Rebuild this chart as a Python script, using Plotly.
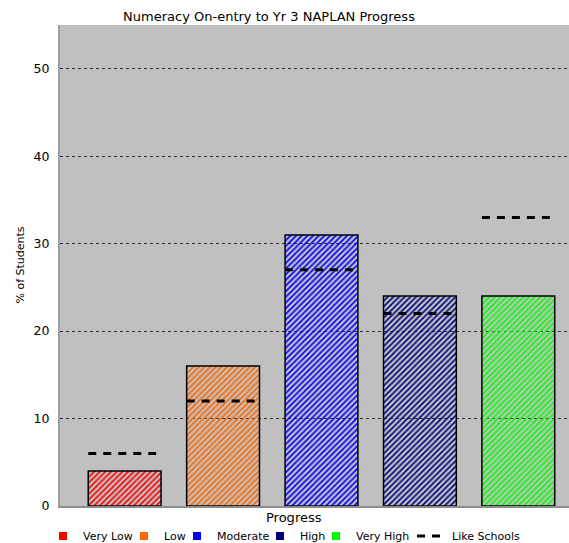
import plotly.graph_objects as go

categories = ["Very Low", "Low", "Moderate", "High", "Very High"]
school_pct = [4, 16, 31, 24, 24]
like_schools_pct = [6, 12, 27, 22, 33]
colors = ["#FF0000", "#FF6600", "#0000FF", "#000080", "#00FF00"]
y_ticks = [0, 10, 20, 30, 40, 50]

FONT = "DejaVu Sans"
bar_w = 0.74
xs = list(range(len(categories)))
PW = 509  # plot width in px
PH = 481  # plot height in px
L = 60    # left margin px

# legend item symbol centres (px), one legend per item so spacing can follow the reference
legend_sym_px = [63, 144, 197, 280, 336, 432]
legend_ids = ["legend", "legend2", "legend3", "legend4", "legend5", "legend6"]

fig = go.Figure()
fig.add_trace(go.Bar(
    x=xs, y=school_pct, width=bar_w,
    marker=dict(color=colors, line=dict(color="#000000", width=1.5),
                pattern=dict(shape="/", fgcolor="#FFFFFF", bgcolor=colors, fgopacity=1,
                             size=4, solidity=0.4, fillmode="replace")),
    showlegend=False, hoverinfo="skip",
))

for k, (name, c) in enumerate(zip(categories, colors)):
    fig.add_trace(go.Scatter(x=[None], y=[None], mode="markers", name=name,
                             legend=legend_ids[k],
                             marker=dict(symbol="square", size=8, color=c)))

lx, ly = [], []
for i, v in zip(xs, like_schools_pct):
    lx += [i - bar_w / 2, i + bar_w / 2 - 0.05, None]
    ly += [v, v, None]
fig.add_trace(go.Scatter(x=lx, y=ly, mode="lines", name="Like Schools", legend=legend_ids[5],
                         line=dict(color="black", width=3, dash="8px,7px")))

leg_common = dict(orientation="h", y=-30/PH, yanchor="middle", xanchor="left",
                  font=dict(size=11), itemwidth=30, tracegroupgap=0,
                  bgcolor="rgba(0,0,0,0)", borderwidth=0)
legends = {lid: dict(x=(px - 20 - L)/PW, **leg_common) for lid, px in zip(legend_ids, legend_sym_px)}

fig.update_layout(
    width=569, height=543,
    margin=dict(l=L, r=0, t=25, b=37, autoexpand=False),
    paper_bgcolor="white", plot_bgcolor="#C0C0C0",
    font=dict(family=FONT, size=11, color="black"),
    title=dict(text="Numeracy On-entry to Yr 3 NAPLAN Progress", x=269/569, xanchor="center",
               y=1 - 16/543, yanchor="middle", font=dict(size=13)),
    xaxis=dict(range=[-0.657, 4.515], showticklabels=False, ticks="", showgrid=False,
               zeroline=False, showline=True, linecolor="#8C8C8C", linewidth=2),
    yaxis=dict(range=[0, 55], tickvals=y_ticks, ticks="", showgrid=True, gridcolor="#303030",
               griddash="dot", gridwidth=1, zeroline=False, showline=True, linecolor="#A0A0A0",
               linewidth=2, tickfont=dict(size=12.5), ticklabelstandoff=6),
    annotations=[
        dict(text="Progress", x=(294-L)/PW, xref="paper", y=-11/PH, yref="paper",
             xanchor="center", yanchor="middle", showarrow=False, font=dict(size=13)),
        dict(text="% of Students", x=(20-L)/PW, xref="paper", y=0.5, yref="paper",
             xanchor="center", yanchor="middle", showarrow=False, textangle=-90, font=dict(size=11)),
    ],
    **legends,
)

fig.write_html("out.html", config={"displayModeBar": False},
               post_script="document.body.style.margin='0';")
